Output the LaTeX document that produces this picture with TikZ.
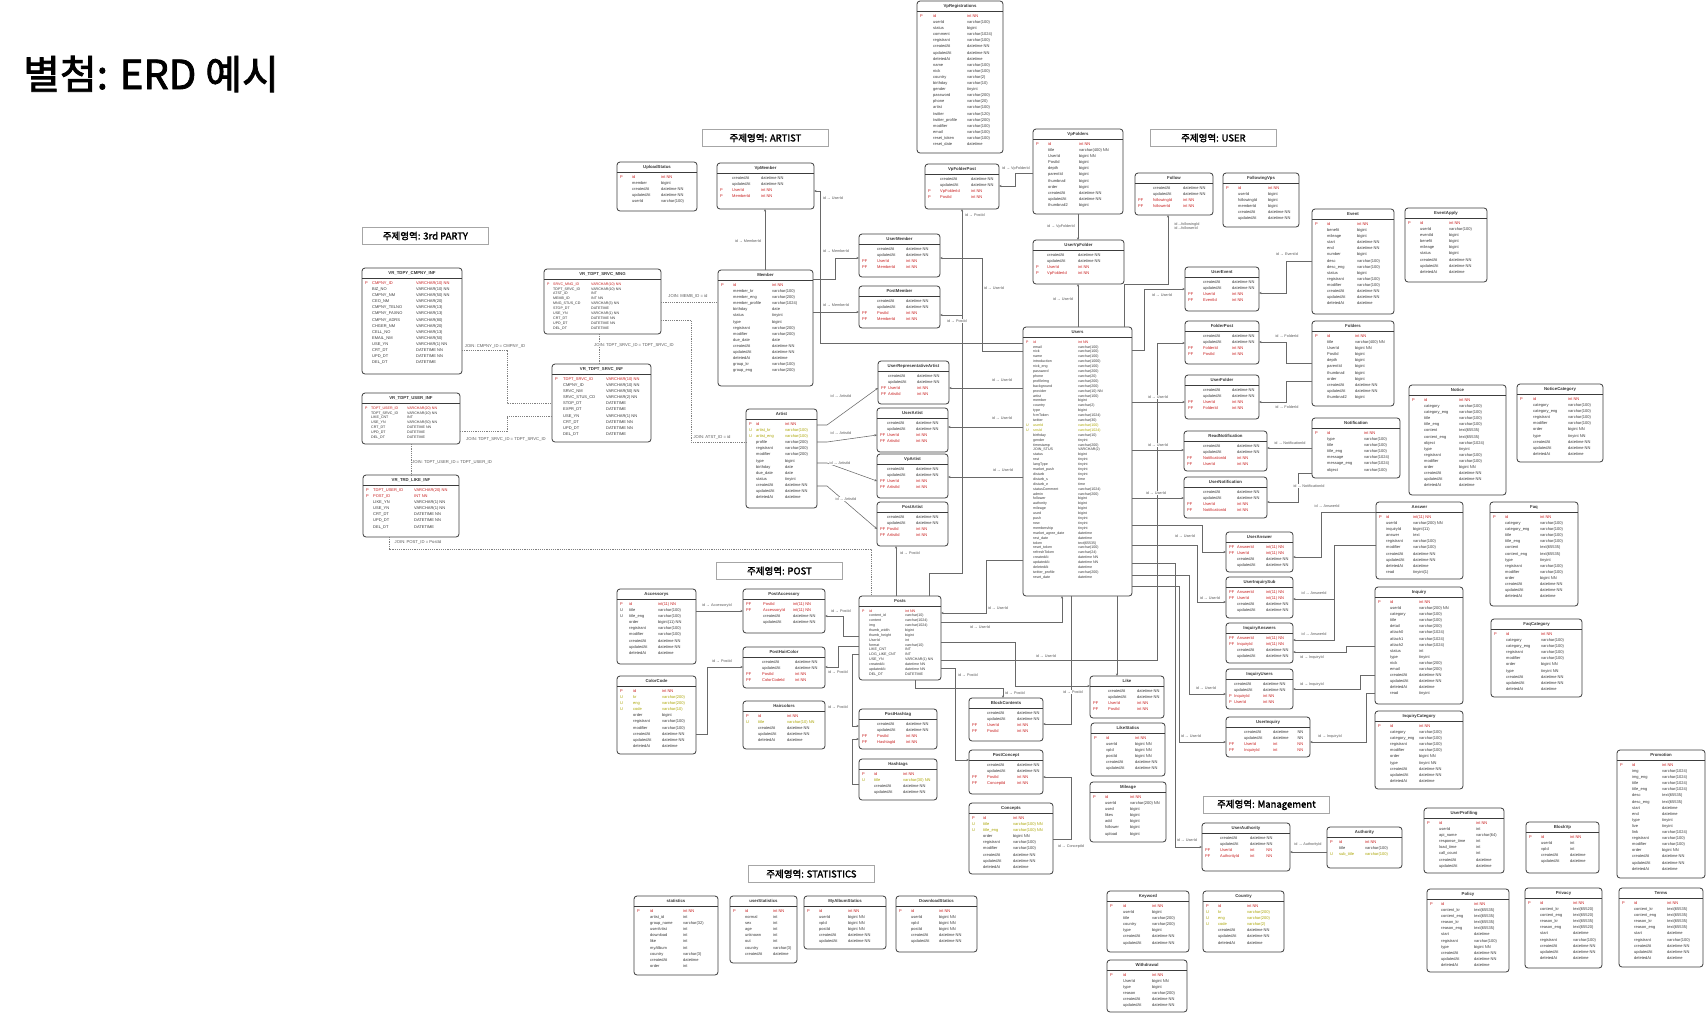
\documentclass[tikz,border=0pt]{standalone}
\usepackage{fontspec}
\setmainfont{Liberation Sans}
\newfontfamily\krfont{Noto Sans CJK KR}[AutoFakeBold=2]
\usetikzlibrary{arrows.meta}
\definecolor{keyred}{RGB}{200,30,30}
\definecolor{ucol}{RGB}{170,165,0}
\definecolor{txt}{RGB}{55,55,55}
\definecolor{bord}{RGB}{60,60,60}
\definecolor{conncol}{RGB}{105,105,105}
\definecolor{lblc}{RGB}{90,90,90}
\pgfkeys{/erd/.cd, x/.store in=\ex, y/.store in=\ey, w/.store in=\ew, h/.store in=\eh,
  k/.store in=\ek, n/.store in=\en, rs/.store in=\ers, fs/.store in=\efs, hd/.store in=\ehd}
\newcommand\Kx[3]{\textcolor{keyred}{\makebox[\ek pt][l]{#1}\makebox[\en pt][l]{#2}#3}\\}
\newcommand\Ux[3]{\textcolor{ucol}{\makebox[\ek pt][l]{#1}\makebox[\en pt][l]{#2}#3}\\}
\newcommand\Px[3]{\makebox[\ek pt][l]{#1}\makebox[\en pt][l]{#2}#3\\}
\newcommand\Nx[2]{\makebox[\ek pt][l]{}\makebox[\en pt][l]{#1}#2\\}
\tikzset{
  tbox/.style={draw=bord, line width=0.8pt, rounded corners=3pt, fill=white, inner sep=0pt, outer sep=0pt},
  hdline/.style={draw=bord, line width=0.9pt},
  ttl/.style={font=\bfseries\fontsize{4.3}{5}\selectfont, text=txt, inner sep=0pt},
  rowsn/.style={anchor=north west, inner sep=0pt, align=left, text=txt},
  conn/.style={draw=conncol, line width=0.55pt, -{Stealth[length=2.6pt,width=2.2pt]}},
  joinln/.style={draw=conncol!85, line width=0.6pt, dash pattern=on 1.2pt off 1pt},
  lbl/.style={font=\fontsize{3.8}{4.2}\selectfont, text=lblc, inner sep=0.4pt, fill=white, align=left},
  jlbl/.style={font=\fontsize{4.2}{4.6}\selectfont, text=lblc, inner sep=0.4pt, fill=white},
  areabox/.style={draw=gray!70, line width=0.8pt, fill=white, minimum width=126pt, minimum height=17pt, inner sep=0pt, anchor=north west, font=\krfont\bfseries\fontsize{9.5}{10}\selectfont}
}
\newcommand\erdtable[4]{%
  \pgfkeys{/erd/.cd,k=12,n=30,rs=6.1,fs=4,hd=10,#2}%
  \pgfmathsetmacro\ehh{\ehd/2}%
  \pgfmathsetmacro\erow{\ehd+3.3}%
  \node[tbox,minimum width=\ew pt,minimum height=\eh pt,anchor=north west] (#1) at (\ex,\ey) {};
  \draw[hdline] ([yshift=-\ehd pt]#1.north west) -- ([yshift=-\ehd pt]#1.north east);
  \node[ttl] (#1-t) at ([yshift=-\ehh pt]#1.north) {#3};
  \node[rowsn,font={\fontsize{\efs}{\ers}\selectfont}] (#1-r) at ([xshift=3pt,yshift=-\erow pt]#1.north west) {#4};
}
\newcounter{labc}
\newcommand\connlab[3]{\stepcounter{labc}\node[lbl] (lab\arabic{labc}) at (#1,#2) {#3};}
\newcommand\joinlab[3]{\stepcounter{labc}\node[jlbl] (lab\arabic{labc}) at (#1,#2) {#3};}
\begin{document}
\begin{tikzpicture}[x=1pt,y=-1pt]
\useasboundingbox (0,0) rectangle (1706,1013);
\fill[white] (0,0) rectangle (1706,1013);
\node[anchor=west, inner sep=0pt, font=\krfont\bfseries\fontsize{40}{44}\selectfont] (title) at (23,74) {별첨: ERD 예시};

% area labels
\node[areabox] (a3rd) at (362,227) {주제영역: 3rd PARTY};
\node[areabox] (aart) at (702,129) {주제영역: ARTIST};
\node[areabox] (ausr) at (1150,129) {주제영역: USER};
\node[areabox] (apst) at (716,562) {주제영역: POST};
\node[areabox] (asta) at (748,865) {주제영역: STATISTICS};
\node[areabox] (amng) at (1203,796) {주제영역: Management};

% ---------- 3rd party ----------
\erdtable{CMPNY}{x=362,y=268,w=100,h=106,k=7,n=44}{VR\_TDPY\_CMPNY\_INF}{\Kx{P}{CMPNY\_ID}{VARCHAR(10) NN}\Nx{BIZ\_NO}{VARCHAR(10) NN}\Nx{CMPNY\_NM}{VARCHAR(50) NN}\Nx{CEO\_NM}{VARCHAR(20)}\Nx{CMPNY\_TELNO}{VARCHAR(13)}\Nx{CMPNY\_FAXNO}{VARCHAR(13)}\Nx{CMPNY\_ADRS}{VARCHAR(80)}\Nx{CHGER\_NM}{VARCHAR(20)}\Nx{CELL\_NO}{VARCHAR(13)}\Nx{EMAIL\_NM}{VARCHAR(50)}\Nx{USE\_YN}{VARCHAR(1) NN}\Nx{CRT\_DT}{DATETIME NN}\Nx{UPD\_DT}{DATETIME NN}\Nx{DEL\_DT}{DATETIME}}
\erdtable{SRVCMNG}{x=544,y=269,w=117,h=65,k=6,n=38,rs=4.9,fs=3.6}{VR\_TDPT\_SRVC\_MNG}{\Kx{P}{SRVC\_MNG\_ID}{VARCHAR(10) NN}\Nx{TDPT\_SRVC\_ID}{VARCHAR(10) NN}\Nx{ATST\_ID}{INT}\Nx{MEMB\_ID}{INT NN}\Nx{MNG\_STUS\_CD}{VARCHAR(3) NN}\Nx{STOP\_DT}{DATETIME}\Nx{USE\_YN}{VARCHAR(1) NN}\Nx{CRT\_DT}{DATETIME NN}\Nx{UPD\_DT}{DATETIME NN}\Nx{DEL\_DT}{DATETIME}}
\erdtable{SRVCINF}{x=552,y=364,w=99,h=78,k=8,n=43}{VR\_TDPT\_SRVC\_INF}{\Kx{P}{TDPT\_SRVC\_ID}{VARCHAR(10) NN}\Nx{CMPNY\_ID}{VARCHAR(10) NN}\Nx{SRVC\_NM}{VARCHAR(50) NN}\Nx{SRVC\_STUS\_CD}{VARCHAR(2) NN}\Nx{STOP\_DT}{DATETIME}\Nx{EXPR\_DT}{DATETIME}\Nx{USE\_YN}{VARCHAR(1) NN}\Nx{CRT\_DT}{DATETIME NN}\Nx{UPD\_DT}{DATETIME NN}\Nx{DEL\_DT}{DATETIME}}
\erdtable{USERINF}{x=362,y=393,w=98,h=51,k=6,n=36,rs=4.9,fs=3.6}{VR\_TDPT\_USER\_INF}{\Kx{P}{TDPT\_USER\_ID}{VARCHAR(20) NN}\Nx{TDPT\_SRVC\_ID}{VARCHAR(10) NN}\Nx{LIKE\_CNT}{INT}\Nx{USE\_YN}{VARCHAR(50) NN}\Nx{CRT\_DT}{DATETIME NN}\Nx{UPD\_DT}{DATETIME}\Nx{DEL\_DT}{DATETIME}}
\erdtable{LIKEINF}{x=363,y=475,w=96,h=62,k=7,n=41}{VR\_TRD\_LIKE\_INF}{\Kx{P}{TDPT\_USER\_ID}{VARCHAR(20) NN}\Kx{P}{POST\_ID}{INT NN}\Nx{LIKE\_YN}{VARCHAR(1) NN}\Nx{USE\_YN}{VARCHAR(1) NN}\Nx{CRT\_DT}{DATETIME NN}\Nx{UPD\_DT}{DATETIME NN}\Nx{DEL\_DT}{DATETIME}}

% ---------- artist ----------
\erdtable{UploadStatus}{x=617,y=162,w=80,h=49,k=12,n=29}{UploadStatus}{\Kx{P}{id}{int NN}\Nx{member}{bigint}\Nx{createdAt}{datetime NN}\Nx{updatedAt}{datetime NN}\Nx{userId}{varchar(100)}}
\erdtable{VpMember}{x=717,y=163,w=97,h=46,k=12,n=29}{VpMember}{\Nx{createdAt}{datetime NN}\Nx{updatedAt}{datetime NN}\Kx{P}{UserId}{int NN}\Kx{P}{MemberId}{int NN}}
\erdtable{Member}{x=718,y=270,w=95,h=116,k=12,n=39}{Member}{\Kx{P}{id}{int NN}\Nx{member\_kr}{varchar(100)}\Nx{member\_eng}{varchar(200)}\Nx{member\_profile}{varchar(1024)}\Nx{birthday}{date}\Nx{status}{tinyint}\Nx{type}{bigint}\Nx{registrant}{varchar(200)}\Nx{modifier}{varchar(200)}\Nx{due\_date}{date}\Nx{createdAt}{datetime NN}\Nx{updatedAt}{datetime NN}\Nx{deletedAt}{datetime}\Nx{group\_kr}{varchar(100)}\Nx{group\_eng}{varchar(200)}}
\erdtable{Artist}{x=746,y=409,w=71,h=99,k=7,n=29}{Artist}{\Kx{P}{id}{int NN}\Ux{U}{artist\_kr}{varchar(100)}\Ux{U}{artist\_eng}{varchar(100)}\Nx{profile}{varchar(200)}\Nx{registrant}{varchar(200)}\Nx{modifier}{varchar(200)}\Nx{type}{bigint}\Nx{birthday}{date}\Nx{due\_date}{date}\Nx{status}{tinyint}\Nx{createdAt}{datetime NN}\Nx{updatedAt}{datetime NN}\Nx{deletedAt}{datetime}}
\erdtable{UserMember}{x=859,y=234,w=81,h=43,k=15,n=29}{UserMember}{\Nx{createdAt}{datetime NN}\Nx{updatedAt}{datetime NN}\Kx{PF}{UserId}{int NN}\Kx{PF}{MemberId}{int NN}}
\erdtable{PostMember}{x=859,y=286,w=81,h=42,k=15,n=29}{PostMember}{\Nx{createdAt}{datetime NN}\Nx{updatedAt}{datetime NN}\Kx{PF}{PostId}{int NN}\Kx{PF}{MemberId}{int NN}}
\erdtable{URA}{x=878,y=361,w=71,h=43,k=7,n=29}{UserRepresentativeArtist}{\Nx{createdAt}{datetime NN}\Nx{updatedAt}{datetime NN}\Kx{PF}{UserId}{int NN}\Kx{PF}{ArtistId}{int NN}}
\erdtable{UserArtist}{x=877,y=408,w=71,h=44,k=7,n=29}{UserArtist}{\Nx{createdAt}{datetime NN}\Nx{updatedAt}{datetime NN}\Kx{PF}{UserId}{int NN}\Kx{PF}{ArtistId}{int NN}}
\erdtable{VpArtist}{x=877,y=454,w=71,h=44,k=7,n=29}{VpArtist}{\Nx{createdAt}{datetime NN}\Nx{updatedAt}{datetime NN}\Kx{PF}{UserId}{int NN}\Kx{PF}{ArtistId}{int NN}}
\erdtable{PostArtist}{x=877,y=502,w=71,h=44,k=7,n=29}{PostArtist}{\Nx{createdAt}{datetime NN}\Nx{updatedAt}{datetime NN}\Kx{PF}{PostId}{int NN}\Kx{PF}{ArtistId}{int NN}}
\erdtable{VpRegistrations}{x=917,y=1,w=86,h=152,k=13,n=34}{VpRegistrations}{\Kx{P}{id}{int NN}\Nx{userId}{varchar(100)}\Nx{status}{bigint}\Nx{comment}{varchar(1024)}\Nx{registrant}{varchar(100)}\Nx{createdAt}{datetime NN}\Nx{updatedAt}{datetime NN}\Nx{deletedAt}{datetime}\Nx{name}{varchar(100)}\Nx{nick}{varchar(100)}\Nx{country}{varchar(2)}\Nx{birthday}{varchar(10)}\Nx{gender}{tinyint}\Nx{password}{varchar(200)}\Nx{phone}{varchar(20)}\Nx{artist}{varchar(100)}\Nx{twitter}{varchar(120)}\Nx{twitter\_profile}{varchar(200)}\Nx{modifier}{varchar(100)}\Nx{email}{varchar(100)}\Nx{reset\_token}{varchar(100)}\Nx{reset\_date}{datetime}}
\erdtable{VpFolderPost}{x=925,y=164,w=74,h=45,k=12,n=31}{VpFolderPost}{\Nx{createdAt}{datetime NN}\Nx{updatedAt}{datetime NN}\Kx{P}{VpFolderId}{int NN}\Kx{P}{PostId}{int NN}}

% ---------- user ----------
\erdtable{VpFolders}{x=1033,y=129,w=90,h=85,k=12,n=31}{VpFolders}{\Kx{P}{id}{int NN}\Nx{title}{varchar(400) NN}\Nx{UserId}{bigint NN}\Nx{PostId}{bigint}\Nx{depth}{bigint}\Nx{parentId}{bigint}\Nx{thumbnail}{bigint}\Nx{order}{bigint}\Nx{createdAt}{datetime NN}\Nx{updatedAt}{datetime NN}\Nx{thumbnail2}{bigint}}
\erdtable{UserVpFolder}{x=1033,y=240,w=91,h=44,k=11,n=31}{UserVpFolder}{\Nx{createdAt}{datetime NN}\Nx{updatedAt}{datetime NN}\Kx{P}{UserId}{int NN}\Kx{P}{VpFolderId}{int NN}}
\erdtable{Follow}{x=1135,y=173,w=78,h=42,k=15,n=30}{Follow}{\Nx{createdAt}{datetime NN}\Nx{updatedAt}{datetime NN}\Kx{PF}{followingId}{int NN}\Kx{PF}{followerId}{int NN}}
\erdtable{FollowingVps}{x=1223,y=173,w=76,h=54,k=12,n=30}{FollowingVps}{\Kx{P}{id}{int NN}\Nx{userId}{bigint}\Nx{followingId}{bigint}\Nx{memberId}{bigint}\Nx{createdAt}{datetime NN}\Nx{updatedAt}{datetime NN}}
\erdtable{Event}{x=1312,y=209,w=82,h=105,k=12,n=30}{Event}{\Kx{P}{id}{int NN}\Nx{benefit}{bigint}\Nx{mileage}{bigint}\Nx{start}{datetime NN}\Nx{end}{datetime NN}\Nx{number}{bigint}\Nx{desc}{varchar(100)}\Nx{desc\_eng}{varchar(100)}\Nx{status}{bigint}\Nx{registrant}{varchar(100)}\Nx{modifier}{varchar(100)}\Nx{createdAt}{datetime NN}\Nx{updatedAt}{datetime NN}\Nx{deletedAt}{datetime}}
\erdtable{EventApply}{x=1405,y=208,w=82,h=74,k=12,n=29}{EventApply}{\Kx{P}{id}{int NN}\Nx{userId}{varchar(100)}\Nx{eventId}{bigint}\Nx{benefit}{bigint}\Nx{mileage}{bigint}\Nx{status}{bigint}\Nx{createdAt}{datetime NN}\Nx{updatedAt}{datetime NN}\Nx{deletedAt}{datetime}}
\erdtable{UserEvent}{x=1185,y=267,w=74,h=44,k=15,n=29}{UserEvent}{\Nx{createdAt}{datetime NN}\Nx{updatedAt}{datetime NN}\Kx{PF}{UserId}{int NN}\Kx{PF}{EventId}{int NN}}
\erdtable{FolderPost}{x=1185,y=321,w=74,h=43,k=15,n=29}{FolderPost}{\Nx{createdAt}{datetime NN}\Nx{updatedAt}{datetime NN}\Kx{PF}{FolderId}{int NN}\Kx{PF}{PostId}{int NN}}
\erdtable{Folders}{x=1312,y=321,w=82,h=85,k=12,n=28}{Folders}{\Kx{P}{id}{int NN}\Nx{title}{varchar(400) NN}\Nx{UserId}{bigint NN}\Nx{PostId}{bigint}\Nx{depth}{bigint}\Nx{parentId}{bigint}\Nx{thumbnail}{bigint}\Nx{order}{bigint}\Nx{createdAt}{datetime NN}\Nx{updatedAt}{datetime NN}\Nx{thumbnail2}{bigint}}
\erdtable{UserFolder}{x=1185,y=375,w=74,h=44,k=15,n=29}{UserFolder}{\Nx{createdAt}{datetime NN}\Nx{updatedAt}{datetime NN}\Kx{PF}{UserId}{int NN}\Kx{PF}{FolderId}{int NN}}
\erdtable{ReadNotification}{x=1184,y=431,w=83,h=40,k=16,n=34}{ReadNotification}{\Nx{createdAt}{datetime NN}\Nx{updatedAt}{datetime NN}\Kx{PF}{NotificationId}{int NN}\Kx{PF}{UserId}{int NN}}
\erdtable{Notification}{x=1312,y=418,w=88,h=60,k=12,n=37}{Notification}{\Kx{P}{id}{int NN}\Nx{type}{varchar(100)}\Nx{title}{varchar(100)}\Nx{title\_eng}{varchar(100)}\Nx{message}{varchar(1024)}\Nx{message\_eng}{varchar(1024)}\Nx{object}{varchar(100)}}
\erdtable{UserNotification}{x=1184,y=477,w=83,h=41,k=16,n=34}{UserNotification}{\Nx{createdAt}{datetime NN}\Nx{updatedAt}{datetime NN}\Kx{PF}{UserId}{int NN}\Kx{PF}{NotificationId}{int NN}}
\erdtable{Notice}{x=1409,y=385,w=97,h=110,k=12,n=35}{Notice}{\Kx{P}{id}{int NN}\Nx{category}{varchar(100)}\Nx{category\_eng}{varchar(100)}\Nx{title}{varchar(100)}\Nx{title\_eng}{varchar(100)}\Nx{content}{text(65535)}\Nx{content\_eng}{text(65535)}\Nx{object}{varchar(1024)}\Nx{type}{tinyint}\Nx{registrant}{varchar(100)}\Nx{modifier}{varchar(100)}\Nx{order}{bigint NN}\Nx{createdAt}{datetime NN}\Nx{updatedAt}{datetime NN}\Nx{deletedAt}{datetime}}
\erdtable{NoticeCategory}{x=1517,y=384,w=86,h=78,k=13,n=35}{NoticeCategory}{\Kx{P}{id}{int NN}\Nx{category}{varchar(100)}\Nx{category\_eng}{varchar(100)}\Nx{registrant}{varchar(100)}\Nx{modifier}{varchar(100)}\Nx{order}{bigint NN}\Nx{type}{tinyint NN}\Nx{createdAt}{datetime NN}\Nx{updatedAt}{datetime NN}\Nx{deletedAt}{datetime}}
\erdtable{Answer}{x=1376,y=502,w=87,h=77,k=7,n=27}{Answer}{\Kx{P}{id}{int(11) NN}\Nx{userId}{varchar(200) NN}\Nx{inquiryId}{bigint(11)}\Nx{answer}{text}\Nx{registrant}{varchar(100)}\Nx{modifier}{varchar(100)}\Nx{createdAt}{datetime NN}\Nx{updatedAt}{datetime NN}\Nx{deletedAt}{datetime}\Nx{read}{tinyint(1)}}
\erdtable{Inquiry}{x=1375,y=587,w=88,h=117,k=12,n=29}{Inquiry}{\Kx{P}{id}{int NN}\Nx{userId}{varchar(200) NN}\Nx{category}{varchar(100)}\Nx{title}{varchar(100)}\Nx{detail}{varchar(200)}\Nx{attach0}{varchar(1024)}\Nx{attach1}{varchar(1024)}\Nx{attach2}{varchar(1024)}\Nx{status}{int}\Nx{type}{tinyint}\Nx{nick}{varchar(200)}\Nx{email}{varchar(200)}\Nx{createdAt}{datetime NN}\Nx{updatedAt}{datetime NN}\Nx{deletedAt}{datetime}\Nx{read}{tinyint}}
\erdtable{InquiryCategory}{x=1375,y=711,w=88,h=78,k=12,n=29}{InquiryCategory}{\Kx{P}{id}{int NN}\Nx{category}{varchar(100)}\Nx{category\_eng}{varchar(100)}\Nx{registrant}{varchar(100)}\Nx{modifier}{varchar(100)}\Nx{order}{bigint NN}\Nx{type}{tinyint NN}\Nx{createdAt}{datetime NN}\Nx{updatedAt}{datetime NN}\Nx{deletedAt}{datetime}}
\erdtable{Faq}{x=1490,y=502,w=88,h=104,k=12,n=35}{Faq}{\Kx{P}{id}{int NN}\Nx{category}{varchar(100)}\Nx{category\_eng}{varchar(100)}\Nx{title}{varchar(100)}\Nx{title\_eng}{varchar(100)}\Nx{content}{text(65535)}\Nx{content\_eng}{text(65535)}\Nx{type}{tinyint}\Nx{registrant}{varchar(100)}\Nx{modifier}{varchar(100)}\Nx{order}{bigint NN}\Nx{createdAt}{datetime NN}\Nx{updatedAt}{datetime NN}\Nx{deletedAt}{datetime}}
\erdtable{FaqCategory}{x=1491,y=619,w=91,h=78,k=12,n=35}{FaqCategory}{\Kx{P}{id}{int NN}\Nx{category}{varchar(100)}\Nx{category\_eng}{varchar(100)}\Nx{registrant}{varchar(100)}\Nx{modifier}{varchar(100)}\Nx{order}{bigint NN}\Nx{type}{tinyint NN}\Nx{createdAt}{datetime NN}\Nx{updatedAt}{datetime NN}\Nx{deletedAt}{datetime}}
\erdtable{UserAnswer}{x=1226,y=532,w=67,h=40,k=8,n=29}{UserAnswer}{\Kx{PF}{AnswerId}{int(11) NN}\Kx{PF}{UserId}{int(11) NN}\Nx{createdAt}{datetime NN}\Nx{updatedAt}{datetime NN}}
\erdtable{UserInquirySub}{x=1226,y=577,w=67,h=41,k=8,n=29}{UserInquirySub}{\Kx{PF}{AnswerId}{int(11) NN}\Kx{PF}{UserId}{int(11) NN}\Nx{createdAt}{datetime NN}\Nx{updatedAt}{datetime NN}}
\erdtable{InquiryAnswers}{x=1226,y=623,w=67,h=40,k=8,n=29}{InquiryAnswers}{\Kx{PF}{AnswerId}{int(11) NN}\Kx{PF}{InquiryId}{int(11) NN}\Nx{createdAt}{datetime NN}\Nx{updatedAt}{datetime NN}}
\erdtable{InquiryUsers}{x=1226,y=669,w=67,h=40,k=5,n=29}{InquiryUsers}{\Nx{createdAt}{datetime NN}\Nx{updatedAt}{datetime NN}\Kx{P}{InquiryId}{int NN}\Kx{P}{UserId}{int NN}}
\erdtable{UserInquiry}{x=1226,y=717,w=84,h=40,k=15,n=29}{UserInquiry}{\Nx{createdAt}{datetime\hspace{9pt}NN}\Nx{updatedAt}{datetime\hspace{9pt}NN}\Kx{PF}{UserId}{int\hspace{20pt}NN}\Kx{PF}{InquiryId}{int\hspace{20pt}NN}}
\erdtable{UserAuthority}{x=1202,y=823,w=88,h=48,k=15,n=30}{UserAuthority}{\Nx{createdAt}{datetime NN}\Nx{updatedAt}{datetime NN}\Kx{PF}{UserId}{int\hspace{12pt}NN}\Kx{PF}{AuthorityId}{int\hspace{12pt}NN}}
\erdtable{Authority}{x=1327,y=827,w=75,h=41,k=9,n=26}{Authority}{\Kx{P}{id}{int NN}\Nx{title}{varchar(100)}\Ux{U}{sub\_title}{varchar(100)}}
\erdtable{Keyword}{x=1107,y=891,w=82,h=61,k=13,n=29}{Keyword}{\Kx{P}{id}{int NN}\Nx{userId}{bigint}\Nx{title}{varchar(200)}\Nx{country}{varchar(200)}\Nx{type}{bigint}\Nx{createdAt}{datetime NN}\Nx{updatedAt}{datetime NN}}
\erdtable{Country}{x=1203,y=891,w=81,h=61,k=12,n=29}{Country}{\Kx{P}{id}{int NN}\Ux{U}{kr}{varchar(200)}\Ux{U}{eng}{varchar(200)}\Ux{U}{code}{varchar(2)}\Nx{createdAt}{datetime NN}\Nx{updatedAt}{datetime NN}\Nx{deletedAt}{datetime}}
\erdtable{Withdrawal}{x=1107,y=960,w=80,h=52,k=13,n=29}{Withdrawal}{\Kx{P}{id}{int NN}\Nx{UserId}{bigint NN}\Nx{type}{bigint}\Nx{reason}{varchar(200)}\Nx{createdAt}{datetime NN}\Nx{updatedAt}{datetime NN}}
\erdtable{Like}{x=1090,y=676,w=74,h=42,k=15,n=29}{Like}{\Nx{createdAt}{datetime NN}\Nx{updatedAt}{datetime NN}\Kx{PF}{UserId}{int NN}\Kx{PF}{PostId}{int NN}}
\erdtable{LikeStatics}{x=1091,y=723,w=74,h=53,k=12,n=29}{LikeStatics}{\Kx{P}{id}{int NN}\Nx{userId}{bigint NN}\Nx{vpId}{bigint NN}\Nx{postId}{bigint NN}\Nx{createdAt}{datetime NN}\Nx{updatedAt}{datetime NN}}
\erdtable{Mileage}{x=1090,y=782,w=76,h=60,k=12,n=25}{Mileage}{\Kx{P}{id}{int NN}\Nx{userId}{varchar(200) NN}\Nx{used}{bigint}\Nx{likes}{bigint}\Nx{add}{bigint}\Nx{follower}{bigint}\Nx{upload}{bigint}}
\erdtable{Users}{x=1023,y=327,w=109,h=269,k=7,n=45,rs=4.9,fs=3.6}{Users}{\Kx{P}{id}{int NN}\Nx{email}{varchar(100)}\Nx{nick}{varchar(100)}\Nx{name}{varchar(100)}\Nx{introduction}{varchar(1000)}\Nx{nick\_eng}{varchar(100)}\Nx{password}{varchar(200)}\Nx{phone}{varchar(20)}\Nx{profileImg}{varchar(200)}\Nx{background}{varchar(200)}\Nx{provider}{varchar(10) NN}\Nx{artist}{varchar(100)}\Nx{member}{bigint}\Nx{country}{varchar(2)}\Nx{type}{bigint}\Nx{fcmToken}{varchar(1024)}\Nx{twitter}{varchar(30)}\Ux{U}{userId}{varchar(100)}\Ux{U}{snsId}{varchar(1024)}\Nx{birthday}{varchar(10)}\Nx{gender}{tinyint}\Nx{timestamp}{varchar(200)}\Nx{JOIN\_STUS}{VARCHAR(2)}\Nx{status}{bigint}\Nx{rest}{tinyint}\Nx{langType}{tinyint}\Nx{market\_push}{tinyint}\Nx{disturb}{tinyint}\Nx{disturb\_s}{time}\Nx{disturb\_e}{time}\Nx{statusComment}{varchar(1024)}\Nx{admin}{varchar(200)}\Nx{follower}{bigint}\Nx{authority}{bigint}\Nx{mileage}{bigint}\Nx{used}{bigint}\Nx{push}{tinyint}\Nx{new}{tinyint}\Nx{membership}{tinyint}\Nx{market\_agree\_date}{datetime}\Nx{rest\_date}{datetime}\Nx{token}{text(65535)}\Nx{reset\_token}{varchar(100)}\Nx{refreshToken}{varchar(24)}\Nx{createdAt}{datetime NN}\Nx{updatedAt}{datetime NN}\Nx{deletedAt}{datetime}\Nx{twitter\_profile}{varchar(200)}\Nx{reset\_date}{datetime}}

% ---------- post ----------
\erdtable{Posts}{x=859,y=596,w=82,h=84,k=7,n=36,rs=4.85,fs=3.6}{Posts}{\Kx{P}{id}{int NN}\Nx{content\_id}{varchar(10)}\Nx{content}{varchar(1024)}\Nx{img}{varchar(1024)}\Nx{thumb\_width}{bigint}\Nx{thumb\_height}{bigint}\Nx{UserId}{int}\Nx{format}{varchar(10)}\Nx{LIKE\_CNT}{INT}\Nx{LOG\_LIKE\_CNT}{INT}\Nx{USE\_YN}{VARCHAR(1) NN}\Nx{createdAt}{datetime NN}\Nx{updatedAt}{datetime NN}\Nx{DEL\_DT}{DATETIME}}
\erdtable{Accessory}{x=617,y=589,w=79,h=75,k=9,n=29}{Accessorys}{\Kx{P}{id}{int(11) NN}\Px{U}{title}{varchar(100)}\Px{U}{title\_eng}{varchar(100)}\Nx{order}{bigint(11) NN}\Nx{registrant}{varchar(100)}\Nx{modifier}{varchar(100)}\Nx{createdAt}{datetime NN}\Nx{updatedAt}{datetime NN}\Nx{deletedAt}{datetime}}
\erdtable{PostAccessory}{x=743,y=589,w=82,h=44,k=17,n=30}{PostAccessory}{\Kx{PF}{PostId}{int(11) NN}\Kx{PF}{AccessoryId}{int(11) NN}\Nx{createdAt}{datetime NN}\Nx{updatedAt}{datetime NN}}
\erdtable{PostHairColor}{x=743,y=647,w=82,h=41,k=16,n=33}{PostHairColor}{\Nx{createdAt}{datetime NN}\Nx{updatedAt}{datetime NN}\Kx{PF}{PostId}{int NN}\Kx{PF}{ColorCodeId}{int NN}}
\erdtable{ColorCode}{x=617,y=676,w=79,h=78,k=13,n=29}{ColorCode}{\Kx{P}{id}{int NN}\Ux{U}{kr}{varchar(200)}\Ux{U}{eng}{varchar(200)}\Ux{U}{code}{varchar(10)}\Nx{order}{bigint}\Nx{registrant}{varchar(100)}\Nx{modifier}{varchar(100)}\Nx{createdAt}{datetime NN}\Nx{updatedAt}{datetime NN}\Nx{deletedAt}{datetime}}
\erdtable{Haircolors}{x=743,y=701,w=82,h=48,k=12,n=29}{Haircolors}{\Kx{P}{id}{int NN}\Ux{U}{title}{varchar(10) NN}\Nx{createdAt}{datetime NN}\Nx{updatedAt}{datetime NN}\Nx{deletedAt}{datetime}}
\erdtable{PostHashtag}{x=859,y=709,w=78,h=40,k=15,n=29}{PostHashtag}{\Nx{createdAt}{datetime NN}\Nx{updatedAt}{datetime NN}\Kx{PF}{PostId}{int NN}\Kx{PF}{HashtagId}{int NN}}
\erdtable{Hashtag}{x=859,y=759,w=78,h=41,k=12,n=29}{Hashtags}{\Kx{P}{id}{int NN}\Ux{U}{title}{varchar(30) NN}\Nx{createdAt}{datetime NN}\Nx{updatedAt}{datetime NN}}
\erdtable{BlockContents}{x=969,y=698,w=74,h=43,k=15,n=30}{BlockContents}{\Nx{createdAt}{datetime NN}\Nx{updatedAt}{datetime NN}\Kx{PF}{UserId}{int NN}\Kx{PF}{PostId}{int NN}}
\erdtable{PostConcept}{x=969,y=750,w=74,h=44,k=15,n=30}{PostConcept}{\Nx{createdAt}{datetime NN}\Nx{updatedAt}{datetime NN}\Kx{PF}{PostId}{int NN}\Kx{PF}{ConceptId}{int NN}}
\erdtable{Concepts}{x=969,y=803,w=84,h=71,k=11,n=30}{Concepts}{\Kx{P}{id}{int NN}\Ux{U}{title}{varchar(100) NN}\Ux{U}{title\_eng}{varchar(100) NN}\Nx{order}{bigint NN}\Nx{registrant}{varchar(100)}\Nx{modifier}{varchar(100)}\Nx{createdAt}{datetime NN}\Nx{updatedAt}{datetime NN}\Nx{deletedAt}{datetime}}

% ---------- statistics ----------
\erdtable{statistics}{x=634,y=896,w=84,h=79,k=13,n=33}{statistics}{\Kx{P}{id}{int NN}\Nx{artist\_id}{int}\Nx{group\_name}{varchar(32)}\Nx{userArtist}{int}\Nx{download}{int}\Nx{like}{int}\Nx{myAlbum}{int}\Nx{country}{varchar(3)}\Nx{createdAt}{datetime}\Nx{order}{int}}
\erdtable{userStatistics}{x=730,y=896,w=67,h=67,k=12,n=28}{userStatistics}{\Kx{P}{id}{int NN}\Nx{normal}{int}\Nx{sex}{int}\Nx{age}{int}\Nx{unknown}{int}\Nx{out}{int}\Nx{country}{varchar(3)}\Nx{createdAt}{datetime}}
\erdtable{MyAlbumStatics}{x=804,y=896,w=82,h=53,k=12,n=29}{MyAlbumStatics}{\Kx{P}{id}{int NN}\Nx{userId}{bigint NN}\Nx{vpId}{bigint NN}\Nx{postId}{bigint NN}\Nx{createdAt}{datetime NN}\Nx{updatedAt}{datetime NN}}
\erdtable{DownloadStatics}{x=896,y=896,w=81,h=56,k=12,n=28}{DownloadStatics}{\Kx{P}{id}{int NN}\Nx{userId}{bigint NN}\Nx{vpId}{bigint NN}\Nx{postId}{bigint NN}\Nx{createdAt}{datetime NN}\Nx{updatedAt}{datetime NN}}

% ---------- misc ----------
\erdtable{UserProfiling}{x=1424,y=808,w=80,h=65,k=12,n=37}{UserProfiling}{\Kx{P}{id}{int NN}\Nx{userId}{int}\Nx{api\_name}{varchar(64)}\Nx{response\_time}{int}\Nx{load\_time}{int}\Nx{call\_count}{int}\Nx{createdAt}{datetime}\Nx{updatedAt}{datetime}}
\erdtable{BlockVp}{x=1526,y=822,w=73,h=51,k=12,n=29}{BlockVp}{\Kx{P}{id}{int NN}\Nx{userId}{int}\Nx{vpId}{int}\Nx{createdAt}{datetime}\Nx{updatedAt}{datetime}}
\erdtable{Promotion}{x=1617,y=750,w=88,h=128,k=12,n=30}{Promotion}{\Kx{P}{id}{int NN}\Nx{img}{varchar(1024)}\Nx{img\_eng}{varchar(1024)}\Nx{title}{varchar(1024)}\Nx{title\_eng}{varchar(1024)}\Nx{desc}{text(65535)}\Nx{desc\_eng}{text(65535)}\Nx{start}{datetime}\Nx{end}{datetime}\Nx{type}{tinyint}\Nx{live}{tinyint}\Nx{link}{varchar(1024)}\Nx{registrant}{varchar(100)}\Nx{modifier}{varchar(100)}\Nx{order}{bigint NN}\Nx{createdAt}{datetime NN}\Nx{updatedAt}{datetime NN}\Nx{deletedAt}{datetime}}
\erdtable{Policy}{x=1427,y=889,w=82,h=83,k=11,n=33}{Policy}{\Kx{P}{id}{int NN}\Nx{content\_kr}{text(65535)}\Nx{content\_eng}{text(65535)}\Nx{reason\_kr}{text(65535)}\Nx{reason\_eng}{text(65535)}\Nx{start}{datetime}\Nx{registrant}{varchar(100)}\Nx{type}{bigint NN}\Nx{createdAt}{datetime NN}\Nx{updatedAt}{datetime NN}\Nx{deletedAt}{datetime}}
\erdtable{Privacy}{x=1525,y=888,w=77,h=80,k=12,n=33}{Privacy}{\Kx{P}{id}{int NN}\Nx{content\_kr}{text(65520)}\Nx{content\_eng}{text(65520)}\Nx{reason\_kr}{text(65535)}\Nx{reason\_eng}{text(65520)}\Nx{start}{datetime}\Nx{registrant}{varchar(100)}\Nx{createdAt}{datetime NN}\Nx{updatedAt}{datetime NN}\Nx{deletedAt}{datetime}}
\erdtable{Terms}{x=1619,y=888,w=84,h=79,k=12,n=33}{Terms}{\Kx{P}{id}{int NN}\Nx{content\_kr}{text(65535)}\Nx{content\_eng}{text(65535)}\Nx{reason\_kr}{text(65535)}\Nx{reason\_eng}{text(65535)}\Nx{start}{datetime}\Nx{registrant}{varchar(100)}\Nx{createdAt}{datetime NN}\Nx{updatedAt}{datetime NN}\Nx{deletedAt}{datetime}}

% ================= connectors =================
% 3rd party joins
\draw[joinln] (SRVCMNG.east |- 0,302) -- (Member.west |- 0,302);
\draw[joinln] (CMPNY.east |- 0,350) -- (507,350) -- (507,403) -- (SRVCINF.west |- 0,403);
\draw[joinln] (SRVCMNG.south -| 599,0) -- (SRVCINF.north -| 599,0);
\draw[joinln] (USERINF.east |- 0,431) -- (507,431) -- (507,416) -- (SRVCINF.west |- 0,416);
\draw[joinln] (SRVCMNG.east |- 0,320) -- (691,320) -- (691,442) -- (Artist.west |- 0,442);
\draw[joinln] (USERINF.south -| 411,0) -- (LIKEINF.north -| 411,0);
\draw[joinln] (LIKEINF.south -| 389,0) -- (389,549) -- (871,549) -- (Posts.north -| 871,0);

% artist area
\draw[conn] (Member.north -| 765,0) -- (VpMember.south -| 765,0);
\draw[conn] (Users.west |- 0,343) -- (820,343) -- (820,191) -- (VpMember.east |- 0,191);
\draw[conn] (Member.east |- 0,279) -- (835,279) -- (835,258) -- (UserMember.west |- 0,258);
\draw[conn] (Member.east |- 0,312) -- (PostMember.west |- 0,312);
\draw[conn] (Users.west |- 0,351) -- (982,351) -- (982,258) -- (UserMember.east |- 0,258);
\draw[conn] (Posts.north -| 929,0) -- (929,573) -- (962,573) -- (VpFolderPost.south -| 962,0);
\coordinate (pmj) at (962,315);
\draw[conn] (pmj) -- (PostMember.east |- 0,315);
\draw[conn] (VpFolders.west |- 0,173) -- (1015,173) -- (1015,186) -- (VpFolderPost.east |- 0,186);
\draw[conn] (VpFolders.south -| 1078,0) -- (UserVpFolder.north -| 1078,0);
\draw[conn] (Users.north -| 1078,0) -- (UserVpFolder.south -| 1078,0);
\draw[conn] (Users.north -| 1124,0) -- (1124,284) -- (1168,284) -- (Follow.south -| 1168,0);
\draw[conn] (Artist.east |- 0,425) -- (827,425) -- (URA.west |- 0,388);
\draw[conn] (Artist.east |- 0,442) -- (827,442) -- (UserArtist.west |- 0,435);
\draw[conn] (Artist.east |- 0,463) -- (827,463) -- (VpArtist.west |- 0,481);
\draw[conn] (Artist.east |- 0,486) -- (827,486) -- (PostArtist.west |- 0,529);
\draw[conn] (Users.west |- 0,388) -- (URA.east |- 0,388);
\draw[conn] (Users.west |- 0,427) -- (UserArtist.east |- 0,427);
\draw[conn] (Users.west |- 0,477) -- (VpArtist.east |- 0,477);
\draw[conn] (Posts.north -| 896,0) -- (PostArtist.south -| 896,0);

% user area
\draw[conn] (Users.east |- 0,350) -- (1144,350) -- (1144,289) -- (UserEvent.west |- 0,289);
\draw[conn] (Event.west |- 0,261) -- (1286,261) -- (1286,293) -- (UserEvent.east |- 0,293);
\draw[conn] (Posts.east |- 0,660) -- (1157,660) -- (1157,343) -- (FolderPost.west |- 0,343);
\draw[conn] (Folders.west |- 0,363) -- (1286,363) -- (1286,342) -- (FolderPost.east |- 0,342);
\draw[conn] (Users.east |- 0,402) -- (UserFolder.west |- 0,402);
\draw[conn] (Folders.west |- 0,381) -- (1286,381) -- (1286,402) -- (UserFolder.east |- 0,402);
\draw[conn] (Users.east |- 0,450) -- (ReadNotification.west |- 0,450);
\draw[conn] (Notification.west |- 0,448) -- (ReadNotification.east |- 0,448);
\draw[conn] (Notification.west |- 0,473) -- (1298,473) -- (1298,502) -- (UserNotification.east |- 0,502);
\draw[conn] (Users.east |- 0,498) -- (UserNotification.west |- 0,498);
\draw[conn] (Users.east |- 0,525) -- (1202,525) -- (1202,552) -- (UserAnswer.west |- 0,552);
\draw[conn] (Answer.west |- 0,512) -- (1321,512) -- (1321,557) -- (UserAnswer.east |- 0,557);
\draw[conn] (Users.east |- 0,545) -- (1197,545) -- (1197,602) -- (UserInquirySub.west |- 0,602);
\draw[conn] (Answer.west |- 0,545) -- (1334,545) -- (1334,599) -- (UserInquirySub.east |- 0,599);
\coordinate (iaj) at (1334,599);
\draw[conn] (iaj) -- (1334,640) -- (InquiryAnswers.east |- 0,640);
\draw[conn] (Inquiry.west |- 0,646) -- (1346,646) -- (1346,652) -- (InquiryAnswers.east |- 0,652);
\draw[conn] (Users.east |- 0,575) -- (1189,575) -- (1189,694) -- (InquiryUsers.west |- 0,694);
\draw[conn] (Inquiry.west |- 0,675) -- (1360,675) -- (1360,689) -- (InquiryUsers.east |- 0,689);
\draw[conn] (Users.east |- 0,586) -- (1179,586) -- (1179,742) -- (UserInquiry.west |- 0,742);
\draw[conn] (Inquiry.west |- 0,693) -- (1366,693) -- (1366,742) -- (UserInquiry.east |- 0,742);
\draw[conn] (Users.east |- 0,563) -- (1175,563) -- (1175,847) -- (UserAuthority.west |- 0,847);
\draw[conn] (Authority.west |- 0,852) -- (UserAuthority.east |- 0,852);
\draw[conn] (Users.south -| 1117,0) -- (Like.north -| 1117,0);
\draw[conn] (Users.south -| 1071,0) -- (1071,724) -- (BlockContents.east |- 0,724);
\draw[conn] (Posts.east |- 0,622) -- (1062,622) -- (Users.south -| 1062,0);
\draw[conn] (Users.west |- 0,560) -- (986,560) -- (986,613) -- (Posts.east |- 0,613);

% post area
\draw[conn] (Posts.east |- 0,642) -- (1015,642) -- (1015,686) -- (Like.west |- 0,686);
\draw[conn] (Posts.south -| 915,0) -- (915,688) -- (1003,688) -- (BlockContents.north -| 1003,0);
\draw[conn] (Posts.east |- 0,668) -- (955,668) -- (955,760) -- (PostConcept.west |- 0,760);
\draw[conn] (Concepts.east |- 0,839) -- (1071,839) -- (1071,777) -- (PostConcept.east |- 0,777);
\draw[conn] (Posts.west |- 0,636) -- (843,636) -- (843,616) -- (PostAccessory.east |- 0,616);
\draw[conn] (Accessory.east |- 0,611) -- (PostAccessory.west |- 0,611);
\draw[conn] (Posts.west |- 0,646) -- (838,646) -- (838,667) -- (PostHairColor.east |- 0,667);
\draw[conn] (ColorCode.east |- 0,734) -- (707,734) -- (707,667) -- (PostHairColor.west |- 0,667);
\draw[conn] (Posts.west |- 0,654) -- (852,654) -- (852,726) -- (PostHashtag.west |- 0,726);
\draw[conn] (Hashtag.west |- 0,784) -- (852,784) -- (852,739) -- (PostHashtag.west |- 0,739);

% ================= labels =================
\joinlab{495}{346}{JOIN: CMPNY\_ID = CMPNY\_ID}
\joinlab{634}{345}{JOIN: TDPT\_SRVC\_ID = TDPT\_SRVC\_ID}
\joinlab{688}{296}{JOIN: MEMB\_ID = id}
\joinlab{506}{439}{JOIN: TDPT\_SRVC\_ID = TDPT\_SRVC\_ID}
\joinlab{712}{437}{JOIN: ATST\_ID = id}
\joinlab{452}{462}{JOIN: TDPT\_USER\_ID = TDPT\_USER\_ID}
\joinlab{418}{542}{JOIN: POST\_ID = PostId}
\connlab{748}{241}{id → MemberId}
\connlab{833}{198}{id → UserId}
\connlab{836}{251}{id → MemberId}
\connlab{836}{305}{id → MemberId}
\connlab{994}{288}{id → UserId}
\connlab{957}{321}{id → PostId}
\connlab{975}{215}{id → PostId}
\connlab{1016}{169}{id → VpFolderId}
\connlab{1061}{227}{id → VpFolderId}
\connlab{1063}{299}{id → UserId}
\connlab{1187}{226}{id→followingId\\id→followerId}
\connlab{1162}{295}{id → UserId}
\connlab{1287}{254}{id → EventId}
\connlab{1287}{336}{id → FolderId}
\connlab{1287}{407}{id → FolderId}
\connlab{1158}{397}{id → UserId}
\connlab{1158}{445}{id → UserId}
\connlab{1290}{443}{id → NotificationId}
\connlab{1309}{486}{id → NotificationId}
\connlab{1156}{493}{id → UserId}
\connlab{1185}{536}{id → UserId}
\connlab{1327}{506}{id → AnswerId}
\connlab{1210}{598}{id → UserId}
\connlab{1314}{593}{id → AnswerId}
\connlab{1314}{634}{id → AnswerId}
\connlab{1312}{658}{id → InquiryId}
\connlab{1206}{688}{id → UserId}
\connlab{1312}{685}{id → InquiryId}
\connlab{1191}{736}{id → UserId}
\connlab{1330}{737}{id → InquiryId}
\connlab{1187}{840}{id → UserId}
\connlab{1308}{845}{id → AuthorityId}
\connlab{1046}{656}{id → UserId}
\connlab{1073}{692}{id → PostId}
\connlab{1015}{693}{id → PostId}
\connlab{968}{675}{id → PostId}
\connlab{1071}{847}{id → ConceptId}
\connlab{841}{611}{id → PostId}
\connlab{717}{606}{id → AccessoryId}
\connlab{838}{672}{id → PostId}
\connlab{722}{661}{id → PostId}
\connlab{838}{707}{id → PostId}
\connlab{910}{553}{id → PostId}
\connlab{841}{396}{id → ArtistId}
\connlab{841}{433}{id → ArtistId}
\connlab{840}{463}{id → ArtistId}
\connlab{846}{499}{id → ArtistId}
\connlab{1002}{380}{id → UserId}
\connlab{1002}{418}{id → UserId}
\connlab{1003}{470}{id → UserId}
\connlab{980}{627}{id → UserId}
\connlab{998}{608}{id → UserId}
\end{tikzpicture}
\end{document}
